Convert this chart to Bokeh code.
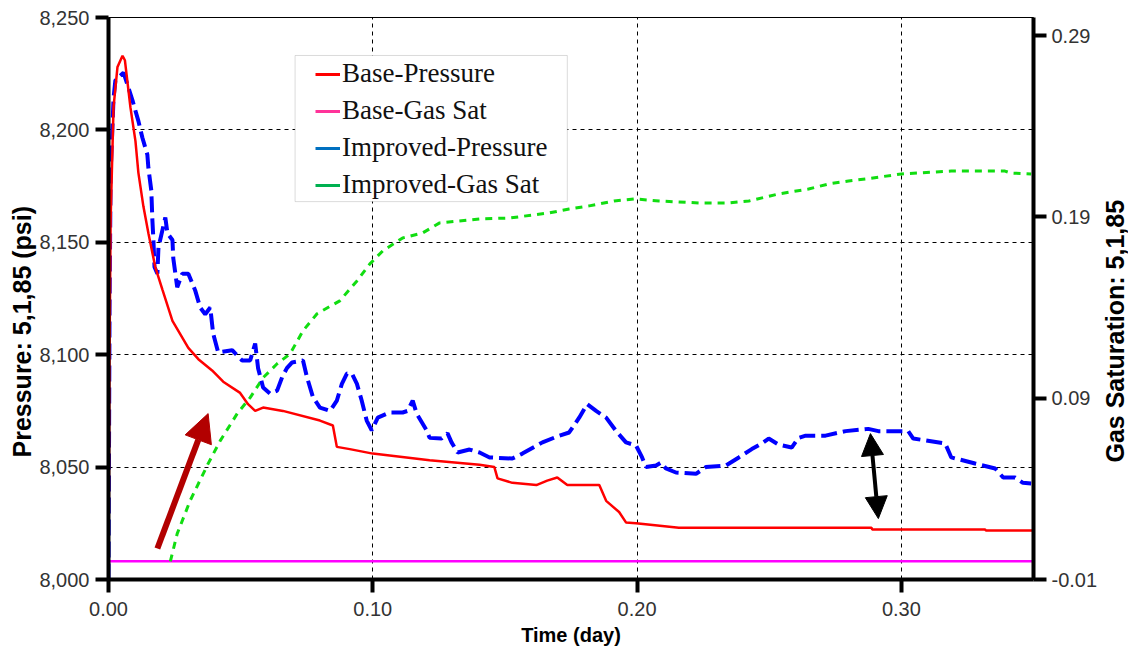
import math
from bokeh.plotting import figure
from bokeh.layouts import row
from bokeh.models import (Range1d, LinearAxis, FixedTicker, NumeralTickFormatter, Legend,
                          LegendItem, Arrow, NormalHead, BoxAnnotation, Title)
from bokeh.embed import file_html
from bokeh.resources import INLINE

# ---------------- data ----------------
base_p_t = [0.0, 0.0004, 0.0008, 0.0019, 0.0034, 0.0053, 0.0062, 0.0083, 0.0102, 0.0113, 0.0132,
            0.0151, 0.0177, 0.0204, 0.0242, 0.0302, 0.0340, 0.0392, 0.0434, 0.0498, 0.0528,
            0.0555, 0.0585, 0.0660, 0.0800, 0.0849, 0.0864, 0.0913, 0.1000, 0.1215, 0.1404,
            0.1460, 0.1472, 0.1528, 0.1619, 0.1660, 0.1698, 0.1736, 0.1857, 0.1883, 0.1932,
            0.1958, 0.1996, 0.2158, 0.2887, 0.2890, 0.3317, 0.3320, 0.35]
base_p_v = [8000, 8100, 8160, 8210, 8228, 8233, 8231, 8210, 8195, 8181, 8166,
            8154, 8139, 8129, 8115, 8103, 8098, 8093, 8088, 8083, 8078,
            8075, 8076.5, 8075, 8070.7, 8068.5, 8059, 8058, 8056, 8053, 8051,
            8050, 8045, 8043, 8042, 8044, 8045.4, 8042, 8042, 8035, 8030,
            8025.4, 8025, 8023, 8023, 8022.2, 8022.2, 8021.8, 8021.8]

base_gs_t = [0.0, 0.35]
base_gs_v = [0.0, 0.0]

imp_p_t = [0.0, 0.0004, 0.0008, 0.0019, 0.0026, 0.0057, 0.0091, 0.0113, 0.0128, 0.0147, 0.0151,
           0.0162, 0.0166, 0.0170, 0.0174, 0.0185, 0.0189, 0.0215, 0.0223, 0.0242, 0.0245, 0.0260,
           0.0279, 0.0302, 0.0328, 0.0347, 0.0366, 0.0385, 0.0396, 0.0415, 0.0468, 0.0506,
           0.0536, 0.0555, 0.0566, 0.0585, 0.0611, 0.0638, 0.0657, 0.0675, 0.0694, 0.0736, 0.0751,
           0.0774, 0.0800, 0.0838, 0.0864, 0.0883, 0.0902, 0.0921, 0.0940, 0.0958, 0.0977, 0.0996,
           0.1019, 0.1064, 0.1113, 0.1132, 0.1151, 0.1166, 0.1204, 0.1215, 0.1260, 0.1283, 0.1298,
           0.1321, 0.1366, 0.1404, 0.1442, 0.1528, 0.1566, 0.1642, 0.1706, 0.1743, 0.1781, 0.1811,
           0.1845, 0.1883, 0.1921, 0.1958, 0.1996, 0.2019, 0.2034, 0.2072, 0.2091, 0.2109, 0.2147,
           0.2223, 0.2260, 0.2336, 0.2385, 0.2434, 0.2472, 0.2498, 0.2536, 0.2585, 0.2611, 0.2638,
           0.2713, 0.2789, 0.2875, 0.2913, 0.3026, 0.3045, 0.3166, 0.3189, 0.3279, 0.3355, 0.3385,
           0.3430, 0.3460, 0.3491]
imp_p_v = [8000, 8120, 8180, 8214, 8222, 8225.5, 8213, 8204, 8196.6, 8189, 8183,
           8173, 8160, 8151, 8139, 8136, 8147.7, 8161, 8154, 8151, 8143, 8130,
           8136, 8136, 8128.6, 8121, 8118, 8121, 8109.4, 8101, 8102, 8097.4,
           8097.4, 8105, 8094, 8085.4, 8082.7, 8084, 8090, 8094, 8096.5, 8097.4, 8090,
           8081, 8076.5, 8075, 8079.6, 8087, 8091.6, 8091.6, 8087, 8079.6, 8070.7, 8066.3,
           8072, 8074.3, 8074.3, 8075, 8079.6, 8073.8, 8066.3, 8063, 8062.7, 8065, 8061,
           8056.5, 8057.8, 8056.5, 8054.3, 8053.8, 8056, 8061, 8064, 8065.4, 8072, 8078,
           8075, 8072, 8066, 8061, 8059.6, 8054.3, 8050, 8050.7, 8052, 8049.4, 8047.6,
           8047, 8050, 8050.7, 8054.3, 8058, 8060.5, 8062.7, 8060, 8058.7, 8063, 8064,
           8064, 8066, 8067, 8066, 8066, 8062.7, 8060.5, 8054.3, 8051.6, 8049.4, 8045.4,
           8045.4, 8043, 8042.7]

imp_gs_t = [0.0234, 0.0260, 0.0309, 0.0377, 0.0423, 0.0487, 0.0536, 0.0585, 0.0638, 0.0687,
            0.0736, 0.0789, 0.0875, 0.0940, 0.0989, 0.1038, 0.1113, 0.1189, 0.1253, 0.1404,
            0.1517, 0.1668, 0.1743, 0.1819, 0.1913, 0.1992, 0.2083, 0.2234, 0.2347, 0.2423,
            0.2536, 0.2649, 0.2725, 0.2800, 0.2864, 0.3000, 0.3064, 0.3189, 0.3392, 0.3415, 0.3491]
imp_gs_v = [0.0, 0.0153, 0.0335, 0.0539, 0.0666, 0.0815, 0.0903, 0.1013, 0.1090, 0.1145,
            0.1272, 0.1366, 0.1437, 0.1547, 0.1641, 0.1713, 0.1784, 0.1812, 0.1867, 0.1889,
            0.1894, 0.1922, 0.1944, 0.1961, 0.1988, 0.1999, 0.1988, 0.1977, 0.1977, 0.1988,
            0.2027, 0.2054, 0.2082, 0.2098, 0.2109, 0.2137, 0.2142, 0.2153, 0.2153, 0.2142, 0.2137]

x_ticks = [0.0, 0.1, 0.2, 0.3]
p_ticks = [8000, 8050, 8100, 8150, 8200, 8250]
gs_ticks = [-0.01, 0.09, 0.19, 0.29]
series_names = ["Base-Pressure", "Base-Gas Sat", "Improved-Pressure", "Improved-Gas Sat"]
legend_colors = ["#FF0000", "#FF3399", "#0070C0", "#00B050"]

# ---------------- main figure ----------------
p = figure(width=1100, height=650, x_range=Range1d(0, 0.35), y_range=Range1d(8000, 8250),
           output_backend="svg", toolbar_location=None,
           min_border_left=108, min_border_right=66, min_border_top=17, min_border_bottom=71,
           background_fill_color="white", border_fill_color="white")
p.extra_y_ranges = {"gs": Range1d(-0.01, 0.30)}
p.outline_line_color = "black"
p.outline_line_width = 1

TICK_FONT = "Liberation Sans"

def style_axis(ax):
    ax.axis_line_color = "black"
    ax.axis_line_width = 4
    ax.major_tick_line_color = "black"
    ax.major_tick_line_width = 4
    ax.major_tick_out = 13
    ax.major_tick_in = 0
    ax.minor_tick_out = 0
    ax.minor_tick_in = 0
    ax.major_label_text_font = TICK_FONT
    ax.major_label_text_font_size = "20px"
    ax.major_label_text_color = "#333333"

xa = p.xaxis[0]
xa.ticker = FixedTicker(ticks=x_ticks)
xa.formatter = NumeralTickFormatter(format="0.00")
style_axis(xa)
xa.major_label_standoff = 9
xa.axis_label = "Time (day)"
xa.axis_label_text_font = "Liberation Sans"
xa.axis_label_text_font_style = "bold"
xa.axis_label_text_font_size = "20px"
xa.axis_label_text_color = "black"
xa.axis_label_standoff = 5

ya = p.yaxis[0]
ya.ticker = FixedTicker(ticks=p_ticks)
ya.formatter = NumeralTickFormatter(format="0,0")
style_axis(ya)
ya.major_label_standoff = 6

ra = LinearAxis(y_range_name="gs", ticker=FixedTicker(ticks=gs_ticks),
                formatter=NumeralTickFormatter(format="0.00"))
style_axis(ra)
ra.major_label_standoff = 5
p.add_layout(ra, "right")

# left axis title, shifted down along the axis like the original
p.add_layout(Title(text="Pressure: 5,1,85 (psi)", align="left", offset=122,
                   text_font="Liberation Sans", text_font_style="bold",
                   text_font_size="25px", text_color="black", standoff=2), "left")

p.xgrid.ticker = FixedTicker(ticks=x_ticks[1:])
p.ygrid.ticker = FixedTicker(ticks=p_ticks[1:-1])
for g in (p.xgrid[0], p.ygrid[0]):
    g.grid_line_color = "black"
    g.grid_line_width = 1
    g.grid_line_dash = "4 4"

# ---------------- series ----------------
p.line(base_gs_t, base_gs_v, y_range_name="gs", line_color="#FF00FF", line_width=2.5)
p.line(imp_gs_t, imp_gs_v, y_range_name="gs", line_color="#11DD11", line_width=3,
       line_dash="7 6")
p.line(imp_p_t, imp_p_v, line_color="#0000FF", line_width=4, line_dash="16 6")
p.line(base_p_t, base_p_v, line_color="#FF0000", line_width=2.5)

# ---------------- annotations ----------------
p.add_layout(Arrow(end=NormalHead(size=28, fill_color="#B20000", line_color="#B20000"),
                   x_start=0.0185, y_start=8013.8, x_end=0.0377, y_end=8073.8,
                   line_color="#B20000", line_width=6))
p.add_layout(Arrow(start=NormalHead(size=22, fill_color="black", line_color="black"),
                   end=NormalHead(size=22, fill_color="black", line_color="black"),
                   x_start=0.2883, y_start=8064.9, x_end=0.2913, y_end=8027.1,
                   line_color="black", line_width=4))

# legend frame
p.add_layout(BoxAnnotation(left=0.0706, right=0.1736, top=8233.1, bottom=8168.1,
                           fill_color="white", fill_alpha=1.0,
                           line_color="#888888", line_width=1, level="overlay"))

nan = float("nan")
dummies = [p.line([nan], [nan], line_color=c, line_width=3) for c in legend_colors]
legend = Legend(items=[LegendItem(label=n, renderers=[r]) for n, r in zip(series_names, dummies)],
                location=(207, 376), padding=0, spacing=0, margin=0,
                label_height=37, glyph_height=20, glyph_width=25, label_standoff=2,
                border_line_alpha=0, background_fill_alpha=0,
                label_text_font="Liberation Serif", label_text_font_size="27px",
                label_text_color="#111111", level="overlay")
p.add_layout(legend)

# ---------------- narrow strip carrying the right-hand axis title ----------------
p2 = figure(width=28, height=650, x_range=Range1d(0, 1), y_range=Range1d(0, 1),
            output_backend="svg", toolbar_location=None,
            x_axis_location=None, y_axis_location=None,
            min_border_left=0, min_border_right=0, min_border_top=17, min_border_bottom=71,
            background_fill_color="white", border_fill_color="white")
p2.outline_line_color = None
p2.grid.visible = False
p2.add_layout(Title(text="Gas Saturation: 5,1,85", align="left", offset=117,
                    text_font="Liberation Sans", text_font_style="bold",
                    text_font_size="25px", text_color="black", standoff=0), "left")

layout = row(p, p2, spacing=0)
open("out.html", "w").write(file_html(layout, INLINE))
